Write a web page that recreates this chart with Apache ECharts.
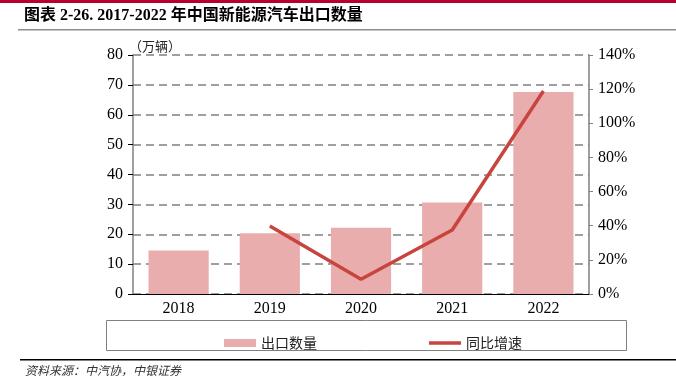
<!DOCTYPE html>
<html>
<head>
<meta charset="utf-8">
<script src="https://cdn.jsdelivr.net/npm/echarts@6/dist/echarts.min.js"></script>
<style>
  html, body { margin: 0; padding: 0; background: #fff; }
  #chart { width: 676px; height: 392px; }
</style>
</head>
<body>
<div id="chart"></div>
<script>
// 年份
const years = ['2018', '2019', '2020', '2021', '2022'];
// 出口数量（万辆）
const exportVolume = [14.6, 20.3, 22.2, 30.6, 67.6];
// 同比增速（%），2018 无数据
const yoyGrowth = ['-', 39.8, 8.6, 37.5, 118.9];

const serif = '"Liberation Serif", "DejaVu Serif", serif';
const cjk = '"Noto Sans CJK SC", sans-serif';

let myChart = echarts.init(document.getElementById('chart'));

const option = {
  animation: false,
  grid: {
    left: 133,
    right: 87,
    top: 55,
    bottom: 98,
  },
  legend: {
    left: 219,
    top: 331,
    itemWidth: 32,
    itemHeight: 8,
    itemGap: 112,
    symbolKeepAspect: true,
    textStyle: {
      fontFamily: cjk,
      fontSize: 14,
      color: '#222',
    },
    data: [
      { name: '出口数量', icon: 'rect' },
      { name: '同比增速', icon: 'path://M0,0 H32 V3.5 H0 Z' },
    ],
  },
  xAxis: {
    type: 'category',
    data: years,
    axisLine: {
      lineStyle: { color: '#000', width: 1 },
    },
    axisTick: {
      length: 5,
      lineStyle: { color: '#000' },
    },
    axisLabel: {
      color: '#000',
      fontFamily: serif,
      fontSize: 16,
      margin: 7,
    },
  },
  yAxis: [
    {
      type: 'value',
      min: 0,
      max: 80,
      interval: 10,
      name: '（万辆）',
      nameGap: 2,
      nameTextStyle: {
        fontFamily: cjk,
        fontSize: 13,
        color: '#222',
        align: 'left',
        padding: [0, 0, 0, -4],
      },
      axisLine: {
        show: true,
        lineStyle: { color: '#7f7f7f', width: 1.5 },
      },
      axisTick: {
        show: true,
        length: 5,
        lineStyle: { color: '#000' },
      },
      axisLabel: {
        color: '#000',
        fontFamily: serif,
        fontSize: 16,
        margin: 10,
      },
      splitLine: {
        lineStyle: {
          color: '#808080',
          width: 1.5,
          type: [8, 5],
        },
      },
    },
    {
      type: 'value',
      min: 0,
      max: 140,
      interval: 20,
      axisLine: {
        show: true,
        lineStyle: { color: '#7f7f7f', width: 1.5 },
      },
      axisTick: {
        show: true,
        length: 4,
        lineStyle: { color: '#7f7f7f' },
      },
      axisLabel: {
        color: '#000',
        fontFamily: serif,
        fontSize: 16,
        margin: 9,
        formatter: '{value}%',
      },
      splitLine: { show: false },
    },
  ],
  series: [
    {
      name: '出口数量',
      type: 'bar',
      data: exportVolume,
      barWidth: '66%',
      itemStyle: { color: '#e8adac' },
    },
    {
      name: '同比增速',
      type: 'line',
      yAxisIndex: 1,
      data: yoyGrowth,
      symbol: 'none',
      lineStyle: { color: '#c8453f', width: 3.5 },
      itemStyle: { color: '#c8453f' },
    },
  ],
  graphic: [
    // 顶部红条
    { type: 'rect', shape: { x: 0, y: 0, width: 676, height: 3 }, style: { fill: '#b8002f' } },
    {
      type: 'text',
      left: 24,
      top: 8,
      style: {
        text: '图表 2-26. 2017-2022 年中国新能源汽车出口数量',
        font: 'bold 16px "Liberation Serif", "Noto Sans CJK SC", serif',
        fill: '#000',
      },
    },
    { type: 'rect', shape: { x: 18, y: 29, width: 658, height: 1.5 }, style: { fill: '#8c8c8c' } },
    // 图例外框
    {
      type: 'rect',
      shape: { x: 106.5, y: 320.5, width: 520, height: 30 },
      style: { fill: 'none', stroke: '#808080', lineWidth: 1 },
    },
    // 资料来源
    { type: 'rect', shape: { x: 20, y: 359, width: 656, height: 1.5 }, style: { fill: '#000' } },
    {
      type: 'text',
      left: 25,
      top: 364,
      style: {
        text: '资料来源：中汽协，中银证券',
        font: 'italic 12px "Noto Sans CJK SC", sans-serif',
        fill: '#333',
      },
    },
  ],
};

myChart.setOption(option);
</script>
</body>
</html>
